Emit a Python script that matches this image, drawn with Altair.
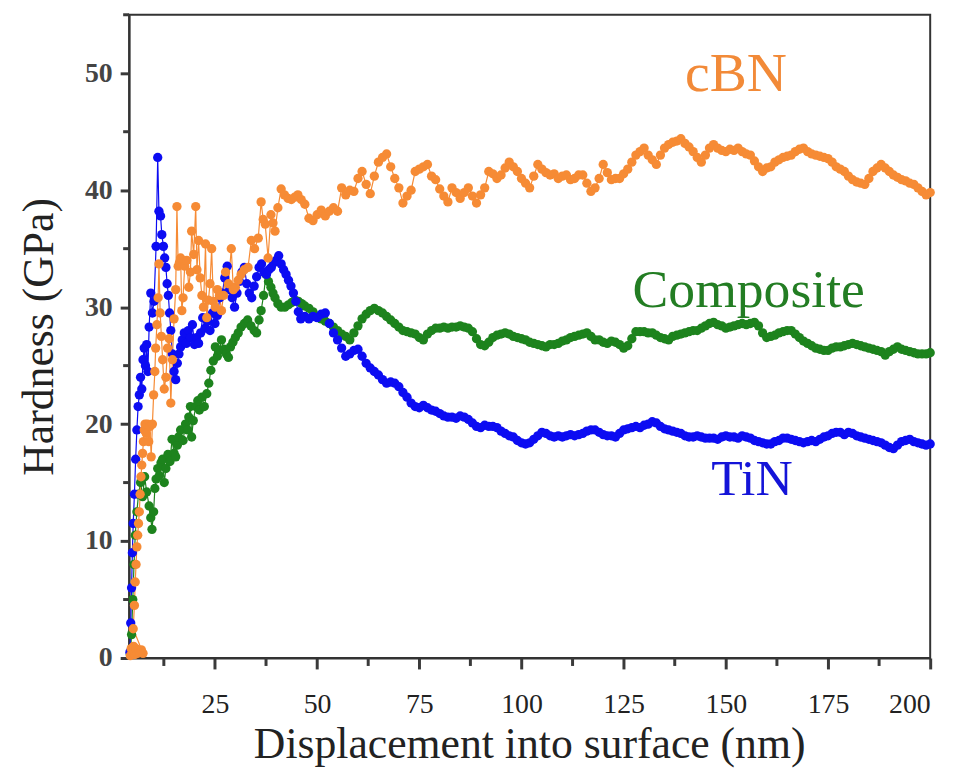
import altair as alt
import pandas as pd

# ---------------- data ----------------
tin_x_head = [4.2, 4.4, 4.6, 4.8, 5.0, 5.3, 5.6, 5.9, 6.2, 6.5,
              6.8, 7.1, 7.4, 7.7, 8.0, 8.3, 8.6, 8.9, 9.3, 9.7,
              10.1, 10.6, 11.0, 11.3, 11.7, 12.0, 12.4, 12.7, 13.0, 13.3,
              13.6, 13.9, 14.2, 14.6, 15.0, 15.4, 15.8, 16.2, 16.6, 17.0,
              17.5, 18.0, 18.5, 19.0, 19.5, 20.0, 20.5, 21.0, 21.5, 22.0,
              22.6, 23.2, 23.8, 24.4, 25.0, 25.6, 26.2, 26.8, 27.4, 28.0,
              28.6, 29.2, 29.8, 30.4, 31.0, 31.6, 32.2, 32.8, 33.4, 34.0,
              34.6, 35.2, 35.8, 36.4, 37.0, 37.6, 38.2, 38.8, 39.4, 40.0,
              40.6, 41.2, 41.8, 42.4, 43.0, 43.6, 44.2, 44.8, 45.4, 46.0]
tin_y_head = [0.5, 3, 6, 9, 11.5, 14, 17, 19.5, 21.5, 22.5,
              24, 23, 25.5, 26.5, 25, 26.8, 24.5, 28.3, 31.2, 29.5,
              30.5, 35.2, 42.8, 38.2, 37.8, 36.2, 35.2, 34.2, 33.4, 32.0,
              31.0, 29.5, 28.0, 26.0, 24.5, 23.8, 25.2, 26.0, 26.6, 27.2,
              27.8, 26.9, 28.0, 27.4, 28.5, 26.8, 27.4, 26.9, 27.8, 29.1,
              28.2, 28.8, 28.0, 29.5, 28.6, 29.3, 30.8, 31.2, 32.5, 33.5,
              31.5, 30.8, 30.0, 31.2, 32.2, 33.0, 33.4, 32.0, 31.2, 30.8,
              31.8, 32.6, 33.4, 33.7, 33.0, 32.8, 33.2, 33.4, 33.8, 34.0,
              34.4, 33.7, 33.2, 32.8, 32.3, 31.8, 31.2, 30.5, 29.6, 29.0]

comp_x_head = [4.3, 4.6, 4.9, 5.2, 5.5, 5.9, 6.3, 6.8, 7.3, 7.8,
               8.3, 8.9, 9.3, 9.6, 10.0, 10.3, 10.6, 11.0, 11.4, 11.8,
               12.2, 12.6, 13.0, 13.5, 14.0, 14.5, 15.0, 15.4, 15.8, 16.1,
               16.6, 17.2, 17.8, 18.3, 18.6, 19.0, 19.3, 19.7, 20.3, 20.8,
               21.2, 21.8, 22.4, 23.0, 23.5, 24.0, 24.6, 25.1, 25.6, 26.1,
               26.6, 27.2, 27.8, 28.3, 28.8, 29.4, 30.0, 30.7, 31.4, 32.2,
               33.0, 33.8, 34.6, 35.2, 35.8, 36.3, 36.9, 37.5, 38.1, 38.7,
               39.2, 39.7, 40.4, 41.2, 42.1, 43.0, 43.8, 44.6, 45.4, 46.2]
comp_y_head = [0.3, 2.0, 5.0, 8.0, 10.5, 12.5, 14.0, 15.0, 13.8, 15.5,
               14.2, 13.0, 12.0, 11.0, 12.5, 14.5, 15.3, 16.2, 15.6, 16.7,
               17.0, 15.0, 16.2, 17.4, 16.8, 18.7, 17.5, 17.2, 18.2, 18.9,
               19.5, 18.6, 20.0, 19.5, 20.6, 21.5, 18.9, 20.3, 21.5, 22.0,
               21.2, 22.3, 21.5, 22.6, 23.5, 24.6, 25.4, 26.6, 25.8, 26.3,
               27.2, 26.4, 26.0, 25.7, 26.6, 27.0, 27.4, 27.8, 28.3, 28.6,
               28.9, 28.4, 28.0, 27.8, 28.9, 29.7, 31.0, 32.8, 32.2, 31.7,
               31.2, 30.8, 30.3, 30.0, 30.0, 30.2, 30.4, 30.6, 30.5, 30.3]

cbn_x_head = [4.3, 4.5, 4.8, 5.1, 5.4, 5.7, 6.0, 6.3, 6.6, 7.0,
              7.4, 5.0, 5.3, 5.5, 5.7, 5.9, 6.1, 6.3, 6.5, 6.7,
              6.9, 7.1, 7.3, 7.5, 7.7, 7.9, 8.2, 8.5, 8.8, 9.1,
              9.4, 9.7, 10.0, 10.3, 10.5, 10.8, 11.1, 11.3, 11.6, 11.9,
              12.2, 12.6, 13.0, 13.4, 13.8, 14.2, 14.6, 15.0, 15.4, 15.7,
              16.0, 16.3, 16.6, 16.9, 17.2, 17.6, 18.1, 18.6, 19.0, 19.3,
              19.8, 20.3, 20.6, 21.0, 21.4, 21.8, 22.2, 22.7, 23.0, 23.4,
              23.8, 24.2, 24.6, 25.1, 25.6, 26.1, 26.6, 27.1, 27.6, 28.3,
              29.0, 29.5, 30.0, 30.7, 31.4, 32.2, 33.1, 33.9, 34.7, 35.6,
              36.3, 36.8, 37.3, 38.0, 38.7, 39.2, 39.7, 40.4, 41.2, 42.0,
              42.9, 43.7, 44.5, 45.3, 46.1]
cbn_y_head = [0.2, 0.8, 0.5, 1.0, 0.3, 0.8, 0.4, 0.6, 0.5, 0.7,
              0.4, 2.5, 4.5, 6.5, 8.0, 9.5, 10.5, 11.5, 12.5, 14.0,
              15.5, 16.5, 17.5, 18.5, 19.5, 20.0, 19.2, 20.0, 18.5, 19.8,
              17.2, 20.0, 22.5, 24.5, 26.5, 28.5, 30.8, 33.7, 29.5, 27.5,
              25.5, 23.0, 24.0, 26.5, 27.3, 21.8, 25.5, 29.0, 31.5, 38.6,
              33.5, 33.8, 34.2, 29.7, 30.8, 33.5, 34.0, 31.7, 33.0, 36.5,
              34.5, 38.6, 33.2, 35.7, 32.5, 31.0, 30.0, 35.4, 29.1, 30.6,
              32.0, 35.0, 30.5, 30.0, 31.5, 31.0, 29.7, 31.0, 33.0, 32.0,
              35.0, 31.5, 31.7, 32.3, 32.8, 33.2, 33.4, 35.7, 35.0, 35.9,
              39.0, 37.5, 37.1, 34.2, 37.9, 37.2, 36.5, 38.5, 40.1, 39.6,
              39.3, 39.2, 39.4, 39.6, 39.2]

# common displacement grid of the later part of every curve (nm)
depth_tail = [47, 48, 49, 50, 51, 52, 53, 54, 55, 56,
              57, 58, 59, 60, 61, 62, 63, 64, 65, 66,
              67, 68, 69, 70, 71, 72, 73, 74, 75, 76,
              77, 78, 79, 80, 81, 82, 83, 84, 85, 86,
              87, 88, 89, 90, 91, 92, 93, 94, 95, 96,
              97, 98, 99, 100, 101, 102, 103, 104, 105, 106,
              107, 108, 109, 110, 111, 112, 113, 114, 115, 116,
              117, 118, 119, 120, 121, 122, 123, 124, 125, 126,
              127, 128, 129, 130, 131, 132, 133, 134, 135, 136,
              137, 138, 139, 140, 141, 142, 143, 144, 145, 146,
              147, 148, 149, 150, 151, 152, 153, 154, 155, 156,
              157, 158, 159, 160, 161, 162, 163, 164, 165, 166,
              167, 168, 169, 170, 171, 172, 173, 174, 175, 176,
              177, 178, 179, 180, 181, 182, 183, 184, 185, 186,
              187, 188, 189, 190, 191, 192, 193, 194, 195, 196,
              197, 198, 199, 200]

tin_y_tail = [29.2, 29.0, 29.2, 29.1, 29.4, 29.5, 28.6, 27.8, 27.2, 26.5,
              25.8, 26.0, 26.3, 26.4, 25.8, 25.2, 24.8, 24.5, 24.2, 23.8,
              23.5, 23.6, 23.5, 23.2, 22.7, 22.3, 21.8, 21.5, 21.4, 21.6,
              21.4, 21.2, 21.1, 20.9, 20.7, 20.6, 20.6, 20.5, 20.7, 20.6,
              20.4, 20.1, 19.8, 19.7, 19.9, 19.8, 19.8, 19.7, 19.4, 19.2,
              19.0, 18.9, 18.6, 18.4, 18.3, 18.4, 18.7, 19.0, 19.3, 19.2,
              19.0, 18.9, 19.0, 18.9, 19.0, 19.1, 19.0, 19.1, 19.2, 19.4,
              19.5, 19.5, 19.3, 19.1, 19.0, 19.0, 18.9, 19.2, 19.5, 19.6,
              19.7, 19.8, 19.7, 19.9, 20.0, 20.2, 20.1, 19.8, 19.6, 19.5,
              19.4, 19.3, 19.2, 19.0, 18.9, 18.9, 19.0, 18.9, 18.8, 18.8,
              18.8, 18.7, 18.9, 19.0, 18.9, 18.9, 18.8, 19.0, 18.9, 18.8,
              18.6, 18.5, 18.4, 18.3, 18.3, 18.5, 18.6, 18.8, 18.8, 18.7,
              18.6, 18.5, 18.4, 18.5, 18.6, 18.5, 18.7, 18.9, 19.0, 19.2,
              19.3, 19.3, 19.1, 19.3, 19.2, 19.0, 18.9, 18.8, 18.7, 18.6,
              18.5, 18.4, 18.2, 18.0, 17.9, 18.2, 18.5, 18.6, 18.7, 18.5,
              18.4, 18.3, 18.2, 18.3]

comp_y_tail = [30.1, 29.9, 29.6, 29.2, 29.0, 28.8, 28.6, 28.3, 28.0, 27.7,
               27.5, 27.2, 27.8, 28.4, 29.0, 29.4, 29.7, 29.9, 29.7, 29.5,
               29.2, 28.9, 28.6, 28.3, 28.0, 27.9, 27.8, 27.7, 27.4, 27.2,
               27.7, 28.0, 28.2, 28.2, 28.3, 28.2, 28.3, 28.3, 28.4, 28.3,
               28.2, 27.9, 27.3, 26.8, 26.7, 27.0, 27.4, 27.6, 27.7, 27.8,
               27.7, 27.5, 27.4, 27.3, 27.2, 27.0, 26.9, 26.8, 26.7, 26.6,
               26.8, 26.8, 26.9, 27.1, 27.2, 27.4, 27.5, 27.6, 27.7, 27.8,
               27.5, 27.2, 27.2, 27.0, 26.9, 27.1, 27.0, 26.8, 26.5, 26.7,
               27.3, 27.9, 27.9, 27.9, 27.8, 27.8, 27.6, 27.4, 27.3, 27.2,
               27.5, 27.6, 27.7, 27.8, 27.9, 28.0, 28.0, 28.2, 28.4, 28.6,
               28.7, 28.5, 28.4, 28.2, 28.3, 28.4, 28.5, 28.6, 28.5, 28.6,
               28.7, 28.4, 27.8, 27.4, 27.5, 27.6, 27.8, 27.9, 28.0, 28.0,
               27.7, 27.4, 27.1, 26.9, 26.7, 26.5, 26.4, 26.3, 26.3, 26.5,
               26.6, 26.6, 26.7, 26.8, 26.9, 26.8, 26.7, 26.6, 26.5, 26.4,
               26.3, 26.2, 25.9, 26.2, 26.4, 26.6, 26.4, 26.3, 26.2, 26.1,
               26.0, 26.0, 26.0, 26.1]

cbn_y_tail = [38.8, 37.6, 37.4, 37.9, 38.3, 37.8, 38.2, 38.5, 38.2, 40.2,
              39.6, 40.0, 39.9, 41.0, 41.6, 40.5, 39.7, 41.2, 42.4, 42.8,
              43.1, 42.0, 41.0, 40.2, 38.9, 39.5, 40.0, 41.6, 41.8, 42.0,
              42.2, 41.2, 40.9, 40.1, 39.5, 39.0, 40.2, 39.8, 39.3, 39.8,
              40.2, 39.5, 38.9, 39.6, 40.2, 41.6, 41.4, 41.0, 41.3, 41.9,
              42.4, 42.0, 41.6, 41.0, 40.6, 40.2, 41.2, 42.2, 41.8, 41.5,
              41.3, 41.4, 41.0, 41.2, 41.3, 40.9, 41.0, 41.3, 41.3, 40.6,
              39.9, 40.2, 41.0, 42.2, 41.5, 40.9, 41.0, 41.0, 41.4, 41.8,
              42.4, 43.0, 43.3, 43.6, 43.0, 42.6, 42.2, 43.0, 43.6, 43.9,
              44.1, 44.2, 44.4, 44.0, 43.7, 43.3, 42.8, 42.4, 43.0, 43.6,
              43.9, 43.6, 43.4, 43.3, 43.5, 43.4, 43.6, 43.3, 43.1, 43.0,
              42.5, 42.0, 41.6, 41.9, 42.0, 42.4, 42.6, 42.8, 42.9, 43.0,
              43.3, 43.5, 43.6, 43.3, 43.1, 43.0, 42.9, 42.8, 42.7, 42.4,
              42.0, 41.8, 41.6, 41.2, 40.9, 40.7, 40.6, 40.5, 41.0, 41.6,
              41.9, 42.2, 41.9, 41.6, 41.3, 41.1, 40.9, 40.8, 40.6, 40.5,
              40.2, 39.9, 39.6, 39.8]

series_names = ["Composite", "TiN", "cBN"]
series_colors = ["#1d831d", "#0c0cf2", "#f68b35"]

label_text = ["cBN", "Composite", "TiN"]
label_x = [152.5, 155.6, 156.4]
label_y = [49.9, 31.4, 15.3]
label_size = [56, 54, 52]
label_color = ["#f28a38", "#237d23", "#1414d8"]

x_major = [25, 50, 75, 100, 125, 150, 175, 200]
x_minor = [12.5, 37.5, 62.5, 87.5, 112.5, 137.5, 162.5, 187.5]
y_major = [0, 10, 20, 30, 40, 50]
y_minor = [5, 15, 25, 35, 45, 55]

# ---------------- build table ----------------
curves = {
    "Composite": (comp_x_head + depth_tail, comp_y_head + comp_y_tail),
    "TiN": (tin_x_head + depth_tail, tin_y_head + tin_y_tail),
    "cBN": (cbn_x_head + depth_tail, cbn_y_head + cbn_y_tail),
}
rows = []
for name in series_names:
    xs, ys = curves[name]
    assert len(xs) == len(ys), (name, len(xs), len(ys))
    for i, (a, b) in enumerate(zip(xs, ys)):
        rows.append({"series": name, "depth": a, "hard": b, "idx": i})
df = pd.DataFrame(rows)

FONT = "Liberation Serif"
AXC = "#333333"
TICKC = "#3a3a3a"

xscale = alt.Scale(domain=[4, 200], nice=False, zero=False)
yscale = alt.Scale(domain=[0, 55], nice=False)
cscale = alt.Scale(domain=series_names, range=series_colors)

xaxis = alt.Axis(
    values=x_major, tickSize=11, tickColor=TICKC, tickWidth=3,
    grid=False, domainColor=AXC, domainWidth=2,
    labelFont=FONT, labelFontSize=28, labelColor="#222", labelPadding=22,
    title="Displacement into surface (nm)", titleFont=FONT, titleFontSize=44,
    titleFontWeight="normal", titleColor="#222",
    titleX=403, titleY=87, titleBaseline="middle", titleAlign="center",
)
yaxis = alt.Axis(
    values=y_major, tickSize=9, tickColor=TICKC, tickWidth=3,
    grid=False, domainColor=AXC, domainWidth=2,
    labelFont=FONT, labelFontSize=28, labelFontWeight="bold", labelColor="#444",
    labelPadding=8,
    title="Hardness (GPa)", titleFont=FONT, titleFontSize=44,
    titleFontWeight="normal", titleColor="#222", titleAngle=-90,
    titleX=-90, titleY=324, titleBaseline="middle", titleAlign="center",
)

base = alt.Chart(df)
lines = base.mark_line(strokeWidth=1.2).encode(
    x=alt.X("depth:Q", scale=xscale, axis=xaxis),
    y=alt.Y("hard:Q", scale=yscale, axis=yaxis),
    color=alt.Color("series:N", scale=cscale, legend=None),
    detail="series:N",
    order=alt.Order("idx:Q"),
)
points = base.mark_circle(size=88, opacity=1).encode(
    x=alt.X("depth:Q", scale=xscale),
    y=alt.Y("hard:Q", scale=yscale),
    color=alt.Color("series:N", scale=cscale, legend=None),
)

# minor ticks (positions through the shared scales)
xminor = alt.Chart(pd.DataFrame({"m": x_minor})).mark_rule(color=TICKC, strokeWidth=3).encode(
    x=alt.X("m:Q", scale=xscale),
    y=alt.value(648), y2=alt.value(656),
)
yminor = alt.Chart(pd.DataFrame({"m": y_minor})).mark_rule(color=TICKC, strokeWidth=3).encode(
    y=alt.Y("m:Q", scale=yscale),
    x=alt.value(0), x2=alt.value(-6),
)

layers = [lines, points, xminor, yminor]
for t, lx, ly, ls, lc in zip(label_text, label_x, label_y, label_size, label_color):
    ldf = pd.DataFrame({"t": [t], "x": [lx], "y": [ly]})
    layers.append(
        alt.Chart(ldf).mark_text(font=FONT, fontSize=ls, color=lc,
                                 align="center", baseline="middle").encode(
            x=alt.X("x:Q", scale=xscale),
            y=alt.Y("y:Q", scale=yscale),
            text="t:N",
        )
    )

chart = alt.layer(*layers).properties(
    width=807, height=648,
    autosize=alt.AutoSizeParams(type="none"),
    padding={"left": 122, "top": 4, "right": 26, "bottom": 110},
    background="white",
).configure_view(stroke=AXC, strokeWidth=2)

chart.save("out.html", embed_options={"renderer": "svg", "actions": False})
